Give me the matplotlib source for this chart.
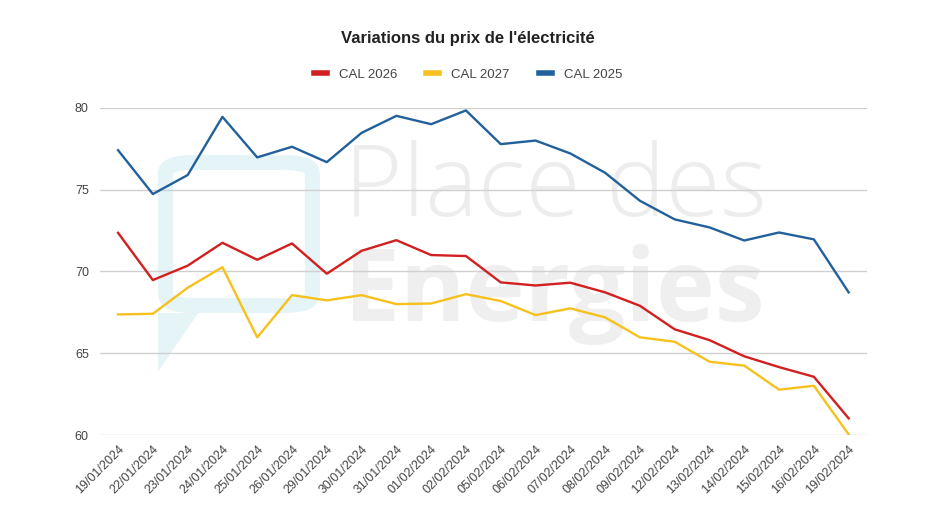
import matplotlib
matplotlib.use("Agg")
import matplotlib.pyplot as plt
from matplotlib.patches import FancyBboxPatch, Polygon

dates = ["19/01/2024", "22/01/2024", "23/01/2024", "24/01/2024", "25/01/2024", "26/01/2024",
         "29/01/2024", "30/01/2024", "31/01/2024", "01/02/2024", "02/02/2024", "05/02/2024",
         "06/02/2024", "07/02/2024", "08/02/2024", "09/02/2024", "12/02/2024", "13/02/2024",
         "14/02/2024", "15/02/2024", "16/02/2024", "19/02/2024"]

cal_2026 = [72.36, 69.47, 70.35, 71.75, 70.71, 71.71, 69.86, 71.26, 71.91, 71.0, 70.94,
            69.33, 69.14, 69.31, 68.72, 67.90, 66.46, 65.80, 64.81, 64.15, 63.56, 61.02]
cal_2027 = [67.37, 67.41, 69.0, 70.26, 65.97, 68.55, 68.23, 68.55, 68.0, 68.04, 68.61,
            68.19, 67.33, 67.74, 67.19, 65.97, 65.70, 64.48, 64.24, 62.77, 63.01, 60.04]
cal_2025 = [77.41, 74.73, 75.89, 79.45, 76.97, 77.62, 76.68, 78.47, 79.51, 79.0, 79.84,
            77.78, 78.0, 77.21, 76.03, 74.32, 73.18, 72.69, 71.89, 72.38, 71.96, 68.72]

series_names = ["CAL 2026", "CAL 2027", "CAL 2025"]
colors = ["#d21f1f", "#f6c11d", "#22609c"]

plt.rcParams['font.family'] = ['Liberation Sans', 'DejaVu Sans']

fig = plt.figure(figsize=(9.36, 5.26), dpi=100)
ax = fig.add_axes([0.1068, 0.173, 0.8192, 0.622])

x = list(range(len(dates)))

# watermark
ax.text(0.318, 0.668, "Place des", transform=ax.transAxes, fontsize=72, color="#ededed",
        fontweight="light", ha="left", va="baseline", zorder=0, family="Open Sans")
ax.text(0.318, 0.348, "Energies", transform=ax.transAxes, fontsize=72, color="#efefef",
        fontweight="bold", ha="left", va="baseline", zorder=0, family="Open Sans")
logo = FancyBboxPatch((0.0854, 0.396), 0.1916, 0.437, boxstyle="round,pad=0.0,rounding_size=0.035",
                      transform=ax.transAxes, fill=False, edgecolor="#e5f4f7",
                      linewidth=10.8, zorder=0)
ax.add_patch(logo)
tail = Polygon([(0.0756, 0.40), (0.0756, 0.193), (0.128, 0.373), (0.0756, 0.373)], closed=True,
               transform=ax.transAxes, facecolor="#e5f4f7", edgecolor="none", zorder=0)
ax.add_patch(tail)

for vals, name, c in zip([cal_2026, cal_2027, cal_2025], series_names, colors):
    ax.plot(x, vals, color=c, linewidth=1.7, label=name, zorder=3)

ax.set_ylim(60, 80)
ax.set_xlim(-0.52, len(dates) - 1 + 0.52)
ax.set_yticks([60, 65, 70, 75, 80])
ax.set_xticks(x)
ax.set_xticklabels(dates, rotation=45, ha="right", rotation_mode="anchor")
ax.tick_params(axis="both", length=0, labelsize=9, colors="#444444")
ax.tick_params(axis="x", pad=6)
ax.tick_params(axis="y", pad=8)
ax.grid(axis="y", color="#d0d0d0", linewidth=1)
ax.set_axisbelow(True)
for s in ax.spines.values():
    s.set_visible(False)

fig.text(0.5, 0.926, "Variations du prix de l'électricité", ha="center", va="center",
         fontsize=12, fontweight="bold", color="#222222")
leg = fig.legend(loc="center", bbox_to_anchor=(0.5, 0.858), ncol=3, frameon=False,
                 fontsize=9.5, handlelength=1.0, handletextpad=0.9, columnspacing=2.2)
for h in leg.get_lines():
    h.set_linewidth(4)
for t in leg.get_texts():
    t.set_color("#444444")

fig.savefig("out.png", dpi=100)
